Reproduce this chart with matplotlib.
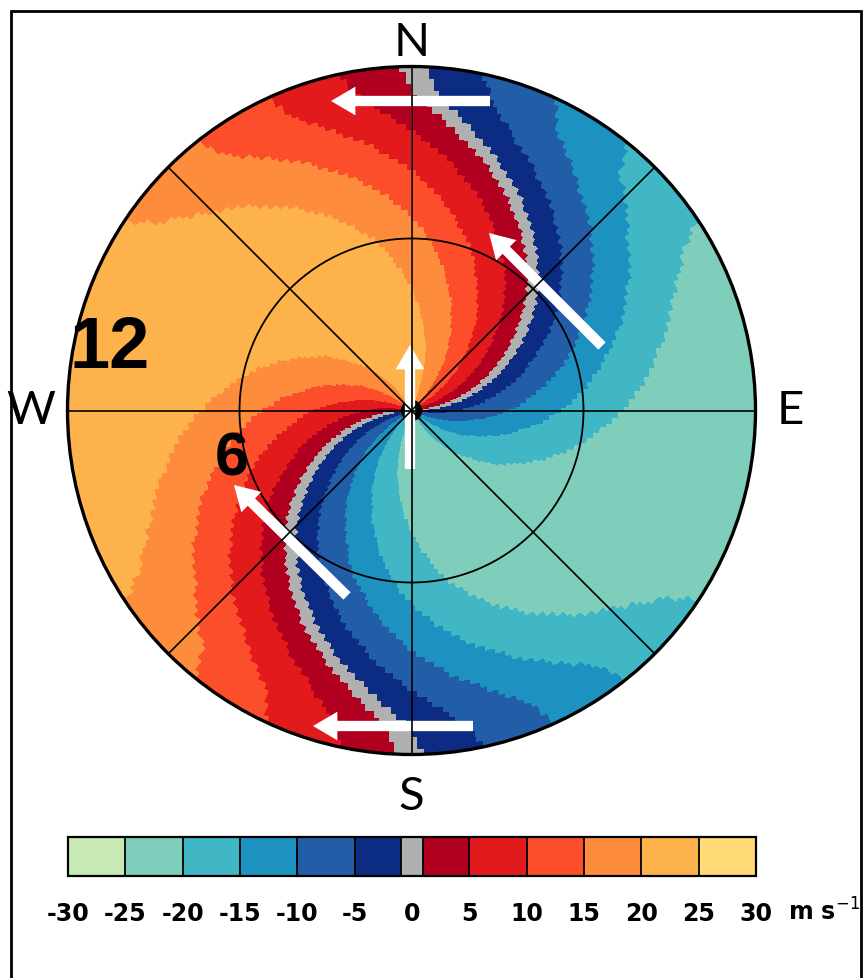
import numpy as np
import matplotlib
matplotlib.use('Agg')
import matplotlib.pyplot as plt
import matplotlib.patches as patches
from matplotlib.colors import ListedColormap, BoundaryNorm

# wind profile (km, degrees the wind blows toward, m/s)
profile_range = [0, 2, 4, 6, 8, 9, 10, 11, 12]
profile_dir = [0, -15, -30, -45, -62, -71, -80, -87, -90]
profile_speed = [22, 23, 23.5, 24, 24, 24, 24, 24, 24]

# colour classes
bounds = [-30, -25, -20, -15, -10, -5, -1, 1, 5, 10, 15, 20, 25, 30]
colors = ['#c7e9b4', '#7fcdbb', '#41b6c4', '#1d91c0', '#225ea8', '#0c2c84', '#b0b0b0',
          '#b1001f', '#e31a1c', '#fc4e2a', '#fd8d3c', '#feb24c', '#fed976']
tick_values = [-30, -25, -20, -15, -10, -5, 0, 5, 10, 15, 20, 25, 30]

rings = [6, 12]
spokes = [0, 45, 90, 135, 180, 225, 270, 315]

PX = 344 / 12.0           # pixels per km
CX, CY = 411.5, 411.5     # radar position in pixels
W, H = 866, 979

fig = plt.figure(figsize=(W / 100, H / 100), dpi=100)
ax = fig.add_axes([0, 0, 1, 1])
ax.set_xlim(-CX / PX, (W - CX) / PX)
ax.set_ylim(-(H - CY) / PX, CY / PX)
ax.axis('off')

# polar bins
r_edges = np.arange(0, 12.0001, 0.2)
az_edges = np.radians(np.arange(0, 361, 1.0))
r_c = 0.5 * (r_edges[1:] + r_edges[:-1])
az_c = 0.5 * (az_edges[1:] + az_edges[:-1])
wdir = np.radians(np.interp(r_c, profile_range, profile_dir))
wspd = np.interp(r_c, profile_range, profile_speed)
vr = wspd[:, None] * np.cos(az_c[None, :] - wdir[:, None])

R, AZ = np.meshgrid(r_edges, az_edges, indexing='ij')
X = R * np.sin(AZ)
Y = R * np.cos(AZ)

cmap = ListedColormap(colors)
norm = BoundaryNorm(bounds, cmap.N)
mesh = ax.pcolormesh(X, Y, vr, cmap=cmap, norm=norm, shading='flat',
                     antialiased=False, edgecolors='none')

# range rings and spokes
for rr in rings:
    ax.add_patch(patches.Circle((0, 0), rr, fill=False, color='black',
                                lw=2.4 if rr == 12 else 1.3))
for a in spokes:
    t = np.radians(a)
    ax.plot([0, 12 * np.sin(t)], [0, 12 * np.cos(t)], color='black', lw=1.2)
ax.add_patch(patches.Circle((0, 0), 0.35, color='black'))

# cardinal letters
card = dict(fontsize=34, fontweight='normal', family=['Lato', 'DejaVu Sans'],
            ha='center', va='center')
ax.text(0, 12.85, 'N', **card)
ax.text(13.2, 0, 'E', **card)
ax.text(0, -13.45, 'S', **card)
ax.text(-13.3, 0, 'W', **card)

# range labels
ax.text((110 - CX) / PX, (CY - 349) / PX, '12', fontsize=52, fontweight='bold',
        family='Liberation Sans', ha='center', va='center')
ax.text((232 - CX) / PX, (CY - 460) / PX, '6', fontsize=44, fontweight='bold',
        family='Liberation Sans', ha='center', va='center')

# wind arrows (tail, tip) in pixels
arrows = [((410, 470), (410, 346)),
          ((602, 347), (489, 234)),
          ((347, 597), (234, 486)),
          ((490, 102), (331, 102)),
          ((473, 727), (313, 727))]
for (x0, y0), (x1, y1) in arrows:
    ax0, ay0 = (x0 - CX) / PX, (CY - y0) / PX
    ax1, ay1 = (x1 - CX) / PX, (CY - y1) / PX
    ax.arrow(ax0, ay0, ax1 - ax0, ay1 - ay0, width=0.36, head_width=1.0,
             head_length=0.85, length_includes_head=True, color='white', lw=0)

# colour bar
cax = fig.add_axes([68 / W, 1 - 877 / H, 688 / W, 39 / H])
cb = fig.colorbar(mesh, cax=cax, orientation='horizontal', spacing='proportional',
                  ticks=tick_values, drawedges=True)
cb.outline.set_linewidth(1.6)
cb.dividers.set_linewidth(1.3)
cb.minorticks_off()
cax.tick_params(which='both', length=0, pad=18)
cax.set_xticklabels([str(v) for v in tick_values], fontsize=17, fontweight='bold')
fig.text(824 / W, 1 - 912 / H, r'm s$^{-1}$', fontsize=17, fontweight='bold',
         ha='center', va='center')

# outer frame
fig.patches.append(patches.Rectangle((11 / W, -0.02), 850 / W, 1.02 - 12 / H,
                                     fill=False, lw=2, color='black',
                                     transform=fig.transFigure, figure=fig))

fig.savefig('out.png', dpi=100)
